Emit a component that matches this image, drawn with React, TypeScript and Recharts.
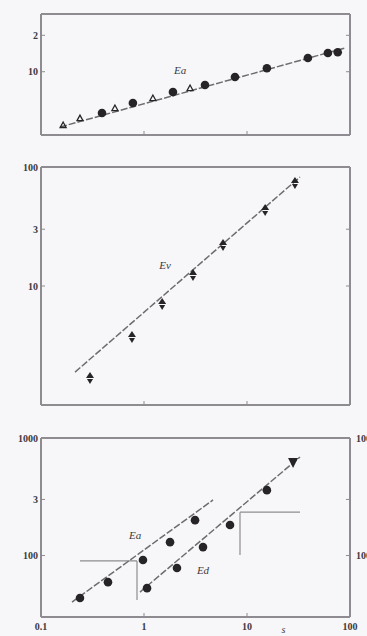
import { ScatterChart, Scatter, XAxis, YAxis, ReferenceLine, ReferenceDot } from "recharts"

// shared log x axis
const xTicks = [0.1, 1, 10, 100]
const xTickLabels = ["0.1", "1", "10", "100"]

// panel 1
const p1Ticks = [10, 20]
const p1TickLabels = ["10", "2"]
const p1FilledX = [0.391, 0.78, 1.91, 3.91, 7.64, 15.6, 39, 61, 76]
const p1FilledY = [4.56, 5.51, 6.79, 7.77, 9.04, 10.7, 13.0, 14.3, 14.5]
const p1OpenX = [0.164, 0.239, 0.522, 1.22, 2.8]
const p1OpenY = [3.63, 4.14, 5.01, 6.06, 7.33]
const p1FitX = [0.153, 89]
const p1FitY = [3.49, 15.7]

// panel 2
const p2Ticks = [10, 30, 100]
const p2TickLabels = ["10", "3", "100"]
const p2X = [0.299, 0.764, 1.5, 2.99, 5.85, 15.0, 29.2]
const p2Y = [1.69, 3.73, 7.06, 12.4, 22.1, 43.5, 73.4]
const p2FitX = [0.214, 32.7]
const p2FitY = [1.89, 82.4]

// panel 3
const p3Ticks = [100, 300, 1000]
const p3TickLabels = ["100", "3", "1000"]
const p3RightLabels = ["100", "", "1000"]
const eaX = [0.239, 0.447, 0.977, 1.79, 3.13]
const eaY = [43.5, 59.4, 91.6, 130, 200]
const eaFitX = [0.2, 4.68]
const eaFitY = [40.2, 297]
const edX = [1.07, 2.09, 3.74, 6.84, 15.6]
const edY = [52.8, 78.3, 118, 182, 360]
const edTopX = [28]
const edTopY = [612]
const edFitX = [0.914, 32.7]
const edFitY = [48.9, 689]

const pts = (xs: number[], ys: number[]) => xs.map((x, i) => ({ x, y: ys[i] }))

const FRAME = "#8e8c90"
const INK = "#262426"
const FIT = "#6e6c70"
const font = "'Liberation Serif', 'DejaVu Serif', serif"
const tickStyle = { fontSize: 10, fill: "#3c3a3e", fontFamily: font, fontWeight: 700 }

const label = (ticks: number[], names: string[]) => (v: number) => {
  const i = ticks.indexOf(v)
  return i < 0 ? "" : names[i]
}

function axes(yDomain: number[], yTicks: number[], yNames: string[], bottomLabels: boolean, rightNames?: string[]) {
  const line = { stroke: FRAME, strokeWidth: 2 }
  return [
    <XAxis key="xb" xAxisId="b" dataKey="x" type="number" scale="log" domain={[0.1, 100]} ticks={xTicks}
      allowDataOverflow interval={0} axisLine={line} tickLine={{ stroke: FRAME }} tickSize={-4} tickMargin={10}
      height={bottomLabels ? 19 : 1} tick={tickStyle}
      tickFormatter={bottomLabels ? label(xTicks, xTickLabels) : () => ""}
      label={bottomLabels ? { value: "s", position: "insideBottom", dx: 88, offset: 3, fill: "#3c3a3e", fontStyle: "italic", fontFamily: font, fontSize: 10 } : undefined} />,
    <XAxis key="xt" xAxisId="t" orientation="top" type="number" scale="log" domain={[0.1, 100]} ticks={xTicks}
      allowDataOverflow interval={0} axisLine={line} tickLine={{ stroke: FRAME }} tickSize={-4} height={1}
      tickFormatter={() => ""} />,
    <YAxis key="yl" yAxisId="l" dataKey="y" type="number" scale="log" domain={yDomain} ticks={yTicks}
      allowDataOverflow interval={0} width={41} axisLine={line} tickLine={{ stroke: FRAME }} tickSize={-4}
      tickMargin={7} tick={tickStyle} tickFormatter={label(yTicks, yNames)} />,
    <YAxis key="yr" yAxisId="r" orientation="right" type="number" scale="log" domain={yDomain} ticks={yTicks}
      allowDataOverflow interval={0} width={17} axisLine={line} tickLine={{ stroke: FRAME }} tickSize={-4}
      tickMargin={10} tick={tickStyle} tickFormatter={rightNames ? label(yTicks, rightNames) : () => ""} />,
  ]
}

const Dot = (p: any) => <circle cx={p.cx} cy={p.cy} r={4.3} fill={INK} />
const Open = (p: any) => (
  <path d={`M${p.cx - 3},${p.cy + 2.5} L${p.cx},${p.cy - 3} L${p.cx + 3},${p.cy + 2.5} Z`} fill="none" stroke={INK} strokeWidth={1.3} />
)
const TriPair = (p: any) => (
  <g fill={INK}>
    <path d={`M${p.cx - 4},${p.cy} L${p.cx},${p.cy - 6} L${p.cx + 4},${p.cy} Z`} />
    <path d={`M${p.cx - 3},${p.cy + 1} L${p.cx + 3},${p.cy + 1} L${p.cx},${p.cy + 6} Z`} />
  </g>
)
const DownTri = (p: any) => (
  <path d={`M${p.cx - 5},${p.cy - 5} L${p.cx + 5},${p.cy - 5} L${p.cx},${p.cy + 5} Z`} fill={INK} />
)
const None = () => <g />

const fitLine = { stroke: FIT, strokeWidth: 1.5, strokeDasharray: "7 2" }
const ids = { xAxisId: "b", yAxisId: "l" }
const tag = (value: string) => ({ value, position: "center" as const, fill: "#3c3a3e", fontStyle: "italic", fontFamily: font, fontSize: 11 })

export default function App() {
  return (
    <div style={{ position: "relative", width: 367, height: 636, background: "#f7f6f8", overflow: "hidden" }}>
      <style>{"body{margin:0;overflow:hidden;background:#f7f6f8}"}</style>

      <div style={{ position: "absolute", top: 0, left: 0 }}>
        <ScatterChart width={367} height={138} margin={{ top: 13, right: 0, bottom: 2, left: 0 }}>
          {axes([3, 30], p1Ticks, p1TickLabels, false)}
          <Scatter {...ids} data={pts(p1FitX, p1FitY)} line={fitLine} shape={None} isAnimationActive={false} />
          <Scatter {...ids} data={pts(p1OpenX, p1OpenY)} shape={Open} isAnimationActive={false} />
          <Scatter {...ids} data={pts(p1FilledX, p1FilledY)} shape={Dot} isAnimationActive={false} />
          <ReferenceDot {...ids} x={2.24} y={10.3} r={0} label={tag("Ea")} ifOverflow="visible" />
        </ScatterChart>
      </div>

      <div style={{ position: "absolute", top: 150, left: 0 }}>
        <ScatterChart width={367} height={258} margin={{ top: 16, right: 0, bottom: 2, left: 0 }}>
          {axes([1, 100], p2Ticks, p2TickLabels, false)}
          <Scatter {...ids} data={pts(p2FitX, p2FitY)} line={fitLine} shape={None} isAnimationActive={false} />
          <Scatter {...ids} data={pts(p2X, p2Y)} shape={TriPair} isAnimationActive={false} />
          <ReferenceDot {...ids} x={1.6} y={15} r={0} label={tag("Ev")} ifOverflow="visible" />
        </ScatterChart>
      </div>

      <div style={{ position: "absolute", top: 420, left: 0 }}>
        <ScatterChart width={367} height={216} margin={{ top: 17, right: 0, bottom: 0, left: 0 }}>
          {axes([30, 1000], p3Ticks, p3TickLabels, true, p3RightLabels)}
          <ReferenceLine {...ids} segment={[{ x: 0.239, y: 90 }, { x: 0.855, y: 90 }]} stroke={FRAME} strokeWidth={1.2} ifOverflow="visible" />
          <ReferenceLine {...ids} segment={[{ x: 0.855, y: 90 }, { x: 0.855, y: 41.8 }]} stroke={FRAME} strokeWidth={1.2} ifOverflow="visible" />
          <ReferenceLine {...ids} segment={[{ x: 8.55, y: 234 }, { x: 32.7, y: 234 }]} stroke={FRAME} strokeWidth={1.2} ifOverflow="visible" />
          <ReferenceLine {...ids} segment={[{ x: 8.55, y: 234 }, { x: 8.55, y: 101 }]} stroke={FRAME} strokeWidth={1.2} ifOverflow="visible" />
          <Scatter {...ids} data={pts(eaFitX, eaFitY)} line={fitLine} shape={None} isAnimationActive={false} />
          <Scatter {...ids} data={pts(edFitX, edFitY)} line={fitLine} shape={None} isAnimationActive={false} />
          <Scatter {...ids} data={pts(eaX, eaY)} shape={Dot} isAnimationActive={false} />
          <Scatter {...ids} data={pts(edX, edY)} shape={Dot} isAnimationActive={false} />
          <Scatter {...ids} data={pts(edTopX, edTopY)} shape={DownTri} isAnimationActive={false} />
          <ReferenceDot {...ids} x={0.82} y={149} r={0} label={tag("Ea")} ifOverflow="visible" />
          <ReferenceDot {...ids} x={3.74} y={75} r={0} label={tag("Ed")} ifOverflow="visible" />
        </ScatterChart>
      </div>
    </div>
  )
}
